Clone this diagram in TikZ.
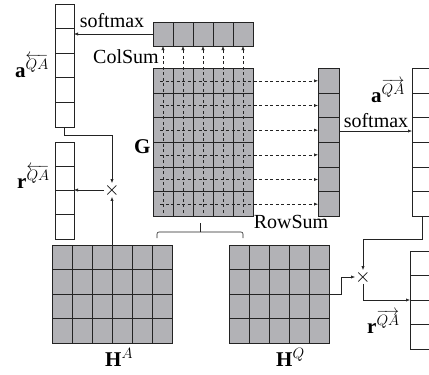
\RequirePackage{fix-cm}
\documentclass[tikz,border=0pt]{standalone}
\usepackage{amsmath}
\usepackage{fontspec}
\setmainfont{Liberation Serif}
\usetikzlibrary{positioning,arrows.meta,calc}
\definecolor{cellgray}{RGB}{178,178,182}
\definecolor{ink}{RGB}{35,35,35}

\begin{document}
\begin{tikzpicture}[x=1pt, y=-1pt,
  block/.style={draw=ink, line width=0.8pt, inner sep=0pt, outer sep=0pt, anchor=north west},
  graybox/.style={block, fill=cellgray},
  whitebox/.style={block, fill=white},
  gridln/.style={draw=ink, line width=0.8pt},
  arr/.style={-{Latex[length=4pt,width=3.2pt]}, draw=ink, line width=0.6pt},
  sumarr/.style={arr, dash pattern=on 3pt off 2.5pt},
  lbl/.style={font=\fontsize{20}{24}\selectfont, inner sep=0pt},
  mlbl/.style={font=\fontsize{21}{24}\selectfont, inner sep=0pt, anchor=base west},
  mul/.style={font=\fontsize{20}{24}\selectfont, inner sep=0pt}
]
\clip (0,0) rectangle (429,375);

% column vectors on the left
\node[whitebox, minimum width=19pt, minimum height=123pt] (aB) at (55,4) {};
\foreach \k in {1,...,4}
  \draw[gridln] ($(aB.north west)!\k/5!(aB.south west)$) -- ($(aB.north east)!\k/5!(aB.south east)$);
\node[whitebox, minimum width=19pt, minimum height=97pt] (rB) at (55,142) {};
\foreach \k in {1,2,3}
  \draw[gridln] ($(rB.north west)!\k/4!(rB.south west)$) -- ($(rB.north east)!\k/4!(rB.south east)$);

% G with its sums
\node[graybox, minimum width=100pt, minimum height=24pt] (colsum) at (153,22) {};
\foreach \k in {1,...,4}
  \draw[gridln] ($(colsum.north west)!\k/5!(colsum.north east)$) -- ($(colsum.south west)!\k/5!(colsum.south east)$);
\node[graybox, minimum width=100pt, minimum height=148pt] (G) at (153,68.5) {};
\foreach \k in {1,...,4}
  \draw[gridln] ($(G.north west)!\k/5!(G.north east)$) -- ($(G.south west)!\k/5!(G.south east)$);
\foreach \k in {1,...,5}
  \draw[gridln] ($(G.north west)!\k/6!(G.south west)$) -- ($(G.north east)!\k/6!(G.south east)$);
\node[graybox, minimum width=21pt, minimum height=148pt] (rowsum) at (318,68.5) {};
\foreach \k in {1,...,5}
  \draw[gridln] ($(rowsum.north west)!\k/6!(rowsum.south west)$) -- ($(rowsum.north east)!\k/6!(rowsum.south east)$);

\foreach \k in {1,3,...,9}
  \draw[sumarr] ($(G.south west)!\k/10!(G.south east)+(0,-4)$) -- ($(colsum.south west)!\k/10!(colsum.south east)$);
\foreach \k in {1,3,...,11}
  \draw[sumarr] ($(G.north west)!\k/12!(G.south west)+(7,0)$) -- ($(rowsum.north west)!\k/12!(rowsum.south west)$);

% column vectors on the right
\node[whitebox, minimum width=22pt, minimum height=148pt] (aF) at (412,68.5) {};
\foreach \k in {1,...,5}
  \draw[gridln] ($(aF.north west)!\k/6!(aF.south west)$) -- ($(aF.north east)!\k/6!(aF.south east)$);
\node[whitebox, minimum width=24pt, minimum height=98pt] (rF) at (410,251) {};
\foreach \k in {1,2,3}
  \draw[gridln] ($(rF.north west)!\k/4!(rF.south west)$) -- ($(rF.north east)!\k/4!(rF.south east)$);

% H matrices
\node[graybox, minimum width=120pt, minimum height=98pt] (HA) at (52,245) {};
\foreach \k in {1,...,5}
  \draw[gridln] ($(HA.north west)!\k/6!(HA.north east)$) -- ($(HA.south west)!\k/6!(HA.south east)$);
\foreach \k in {1,2,3}
  \draw[gridln] ($(HA.north west)!\k/4!(HA.south west)$) -- ($(HA.north east)!\k/4!(HA.south east)$);
\node[graybox, minimum width=100pt, minimum height=98pt] (HQ) at (229,245) {};
\foreach \k in {1,...,4}
  \draw[gridln] ($(HQ.north west)!\k/5!(HQ.north east)$) -- ($(HQ.south west)!\k/5!(HQ.south east)$);
\foreach \k in {1,2,3}
  \draw[gridln] ($(HQ.north west)!\k/4!(HQ.south west)$) -- ($(HQ.north east)!\k/4!(HQ.south east)$);

\draw[ink, line width=0.6pt, rounded corners=2pt] (157,238) -- (157,232) -- (243,232) -- (243,238);
\draw[ink, line width=1pt] (200,232) -- (200,223);

% products
\node[mul] (mulB) at (112,190) {$\times$};
\node[mul] (mulF) at (363,277) {$\times$};

\draw[arr] (colsum.west) -- (colsum.west -| aB.east);
\draw[arr] (rowsum.east |- 0,131) -- (aF.west |- 0,131);
\draw[arr] (aB.south) -- ++(0,8) -| (mulB.north);
\draw[arr] (HA.north -| mulB) -- (mulB.south);
\draw[arr] (mulB.west) -- (mulB.west -| rB.east);
\draw[arr] ($(aF.south west)+(10,0)$) -- ++(0,23) -| (mulF.north);
\draw[arr] (HQ.east) -- ++(12,0) |- (mulF.west);
\draw[arr] (mulF.south) |- (rF.west);

% labels
\node[lbl] (smB) at (112,21) {softmax};
\node[lbl] (colsumlbl) at (126,57) {ColSum};
\node[lbl] (rowsumlbl) at (291,222) {RowSum};
\node[lbl] (smF) at (376,121) {softmax};
\node[mlbl] (aBlbl) at (15,77) {$\mathbf{a}^{\hbox{\fontsize{15}{18}\selectfont$\overleftarrow{QA}$}}$};
\node[mlbl] (rBlbl) at (17,188) {$\mathbf{r}^{\hbox{\fontsize{15}{18}\selectfont$\overleftarrow{QA}$}}$};
\node[mlbl] (aFlbl) at (371,102) {$\mathbf{a}^{\hbox{\fontsize{15}{18}\selectfont$\overrightarrow{QA}$}}$};
\node[mlbl] (rFlbl) at (367,333) {$\mathbf{r}^{\hbox{\fontsize{15}{18}\selectfont$\overrightarrow{QA}$}}$};
\node[mlbl] (Glbl) at (134,153) {$\mathbf{G}$};
\node[mlbl] (HAlbl) at (105,366) {$\mathbf{H}^{\hbox{\fontsize{15}{18}\selectfont$A$}}$};
\node[mlbl] (HQlbl) at (276,366) {$\mathbf{H}^{\hbox{\fontsize{15}{18}\selectfont$Q$}}$};
\end{tikzpicture}
\end{document}
